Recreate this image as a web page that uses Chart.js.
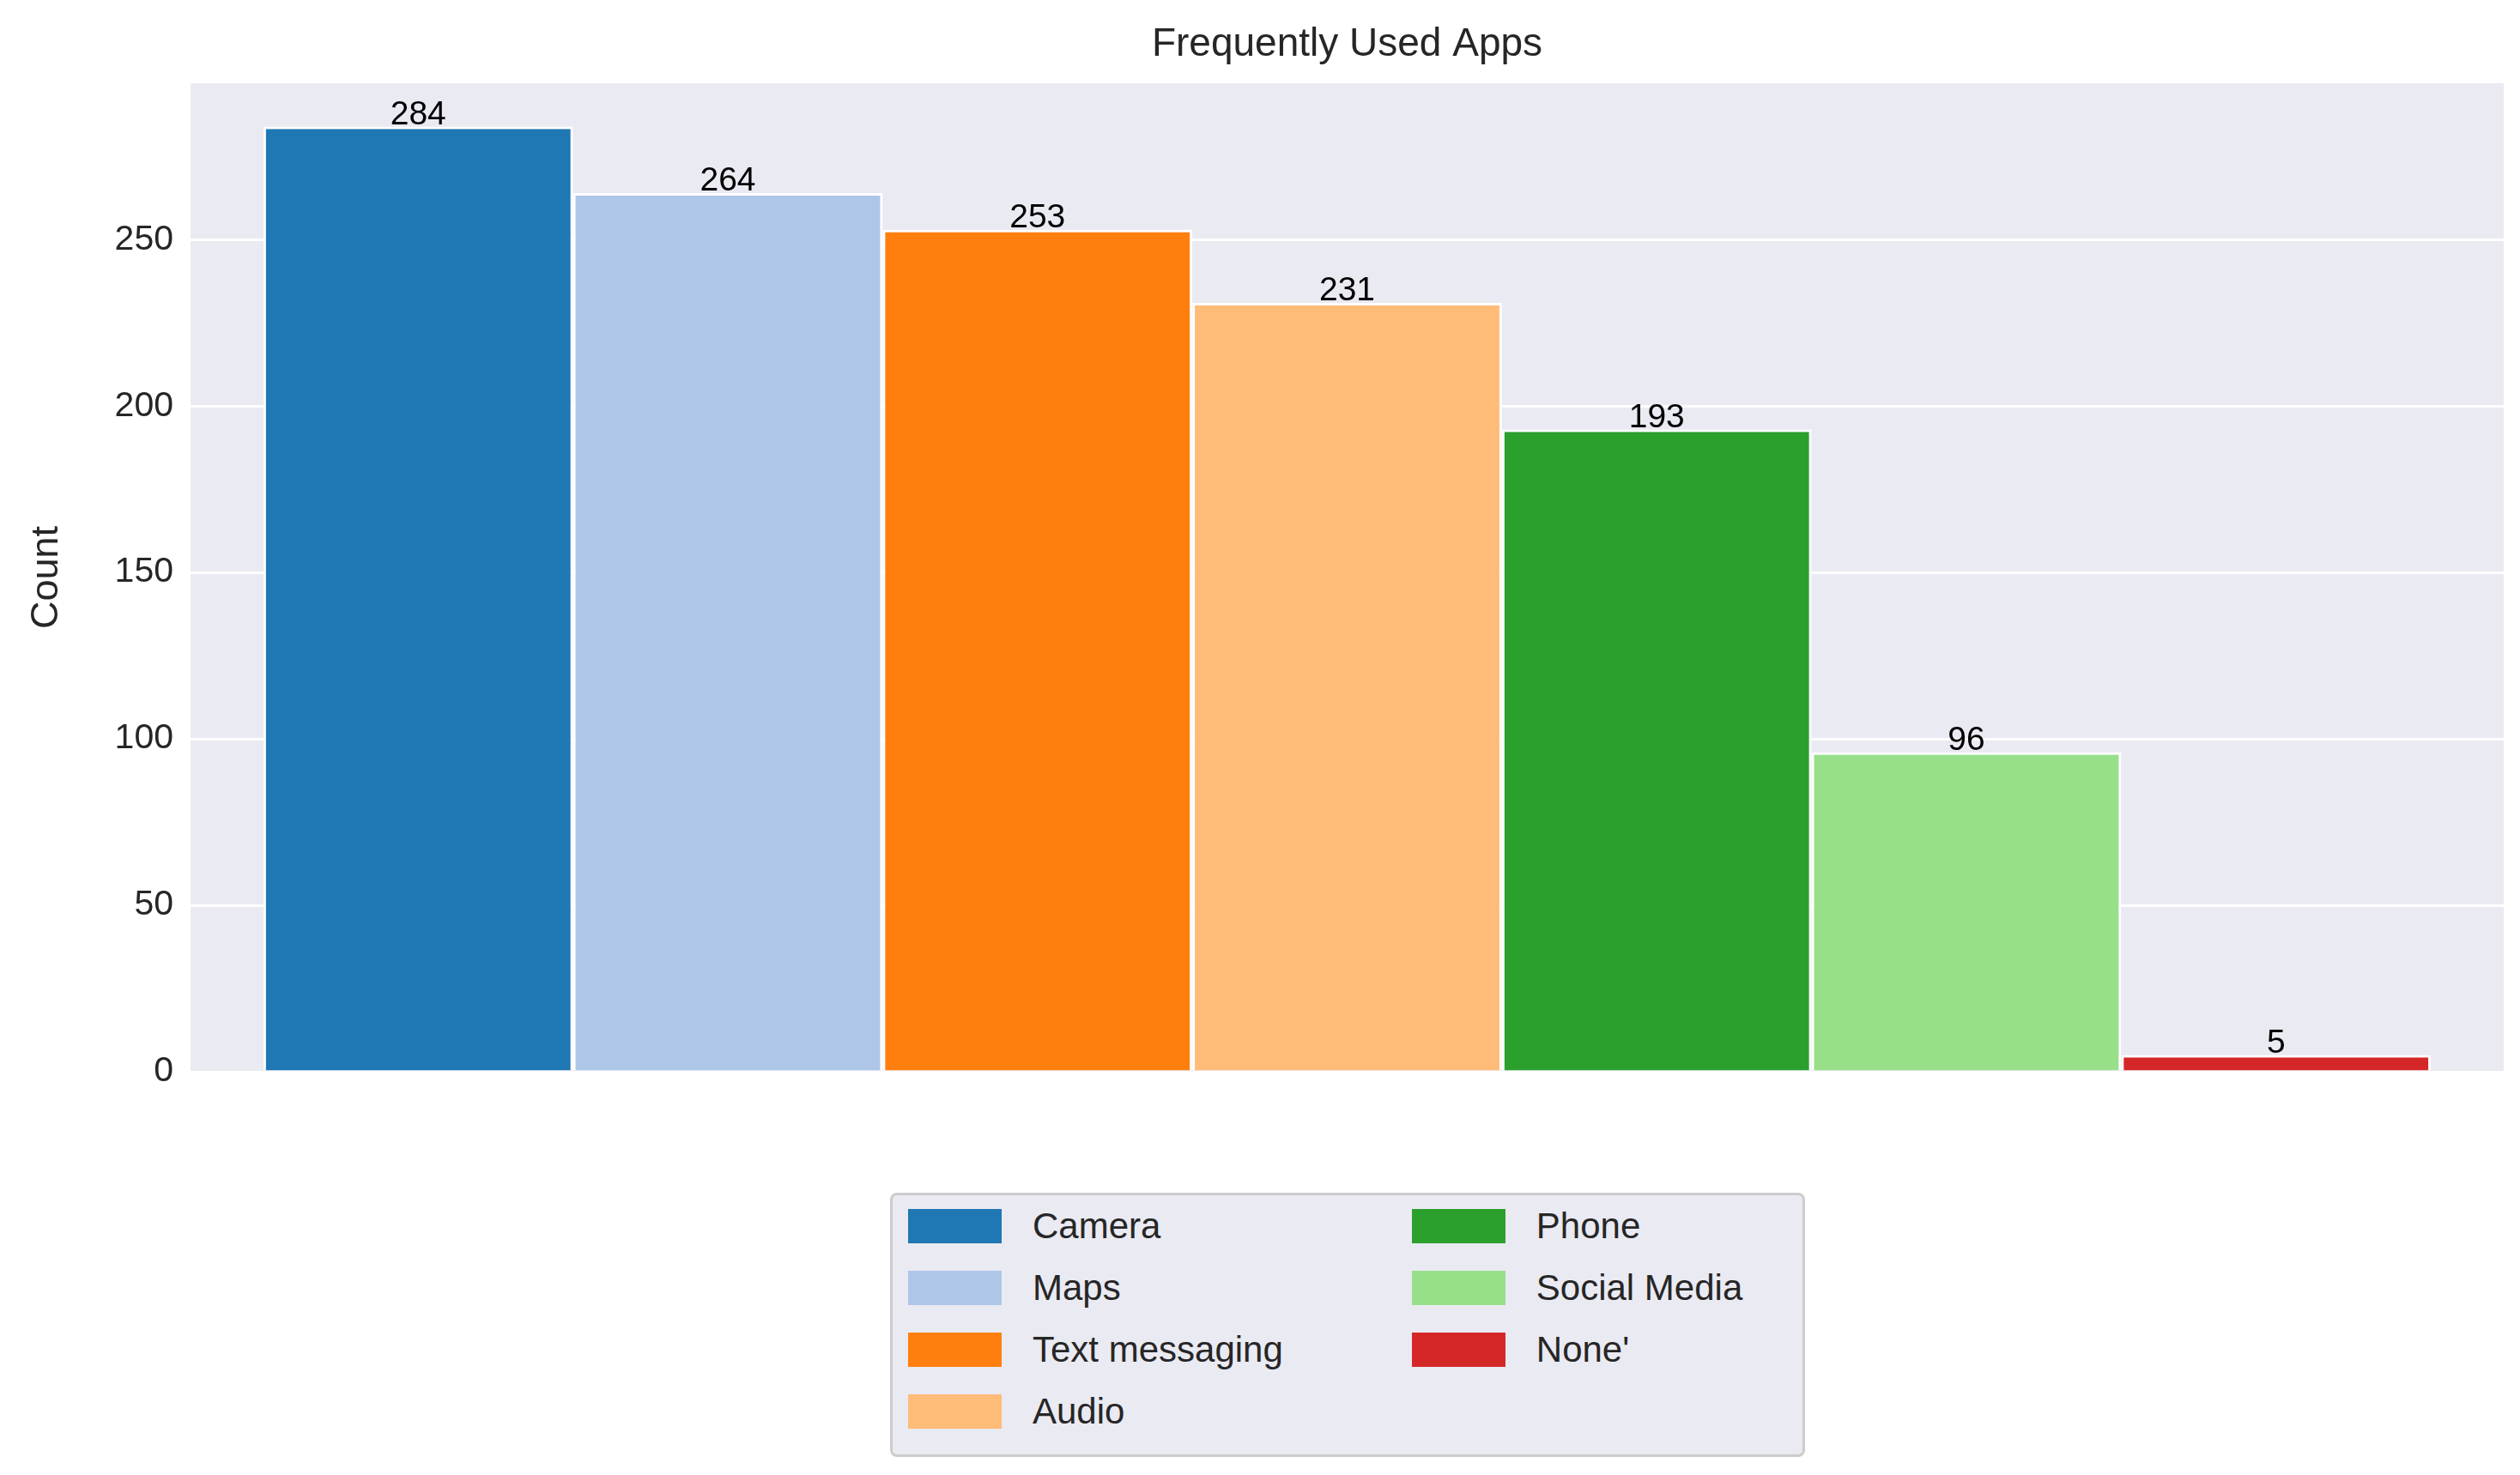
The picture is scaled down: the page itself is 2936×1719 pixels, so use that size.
<!DOCTYPE html>
<html>
<head>
<meta charset="utf-8">
<script src="https://cdn.jsdelivr.net/npm/chart.js@4.4.1/dist/chart.umd.min.js"></script>
<style>
  html, body { margin: 0; padding: 0; background: #fff; }
  #wrap { position: relative; width: 2936px; height: 1719px; }
  #legend {
    position: absolute; left: 1037px; top: 1390px; width: 1066px; height: 308px;
    box-sizing: border-box; background: #EAEAF2; border: 3px solid #cccccc; border-radius: 8px;
    display: flex; padding: 0 20px 0 18px; font-family: "Liberation Sans", Arial, sans-serif;
    font-size: 42px; color: #262626;
  }
  .col { display: flex; flex-direction: column; }
  .col + .col { margin-left: 150px; }
  .item { display: flex; align-items: center; height: 72px; }
  .sw { width: 109px; height: 40px; margin-right: 36px; }
</style>
</head>
<body>
<div id="wrap">
  <canvas id="chart" width="2936" height="1719"></canvas>
  <div id="legend"></div>
</div>
<script>
const apps = ["Camera", "Maps", "Text messaging", "Audio", "Phone", "Social Media", "None'"];
const counts = [284, 264, 253, 231, 193, 96, 5];
const colors = ["#1f77b4", "#aec7e8", "#ff7f0e", "#ffbb78", "#2ca02c", "#98df8a", "#d62728"];
const yTicks = [0, 50, 100, 150, 200, 250];

const FONT = '"Liberation Sans", Arial, sans-serif';

const bgPlugin = {
  id: "bg",
  beforeDraw(chart) {
    const { ctx, chartArea: a } = chart;
    ctx.save();
    ctx.fillStyle = "#EAEAF2";
    ctx.fillRect(a.left, a.top, a.right - a.left, a.bottom - a.top);
    ctx.restore();
  },
  afterDraw(chart) {
    const { ctx, chartArea: a } = chart;
    ctx.save();
    ctx.fillStyle = "#262626";
    ctx.font = "46px " + FONT;
    ctx.textAlign = "center";
    ctx.textBaseline = "middle";
    ctx.fillText("Frequently Used Apps", (a.left + a.right) / 2, 52);
    ctx.fillStyle = "#000";
    ctx.font = "39px " + FONT;
    ctx.textBaseline = "bottom";
    chart.data.datasets.forEach((ds, i) => {
      const bar = chart.getDatasetMeta(i).data[0];
      ctx.fillText(String(ds.data[0]), bar.x, bar.y + 6);
    });
    ctx.restore();
  }
};

new Chart(document.getElementById("chart"), {
  type: "bar",
  data: {
    labels: [""],
    datasets: apps.map((name, i) => ({
      label: name,
      data: [counts[i]],
      backgroundColor: colors[i],
      borderColor: "#ffffff",
      borderWidth: 3,
      categoryPercentage: 0.937,
      barPercentage: 1
    }))
  },
  options: {
    responsive: false,
    animation: false,
    layout: { padding: { left: 28, right: 19, top: 97, bottom: 470 } },
    plugins: { legend: { display: false }, title: { display: false }, tooltip: { enabled: false } },
    scales: {
      x: { display: false },
      y: {
        min: 0, max: 297,
        afterFit(scale) { scale.width = 194; },
        afterBuildTicks(scale) { scale.ticks = yTicks.map(v => ({ value: v })); },
        grid: { color: "#ffffff", lineWidth: 3, drawTicks: false },
        border: { display: false },
        ticks: { color: "#262626", font: { size: 41, family: FONT }, padding: 20 },
        title: { display: true, text: "Count", color: "#262626", font: { size: 45, family: FONT }, padding: 0 }
      }
    }
  },
  plugins: [bgPlugin]
});

const legend = document.getElementById("legend");
[[0, 4], [4, 7]].forEach(([s, e]) => {
  const col = document.createElement("div");
  col.className = "col";
  for (let i = s; i < e; i++) {
    const it = document.createElement("div");
    it.className = "item";
    it.innerHTML = `<span class="sw" style="background:${colors[i]}"></span><span>${apps[i]}</span>`;
    col.appendChild(it);
  }
  legend.appendChild(col);
});
</script>
</body>
</html>
